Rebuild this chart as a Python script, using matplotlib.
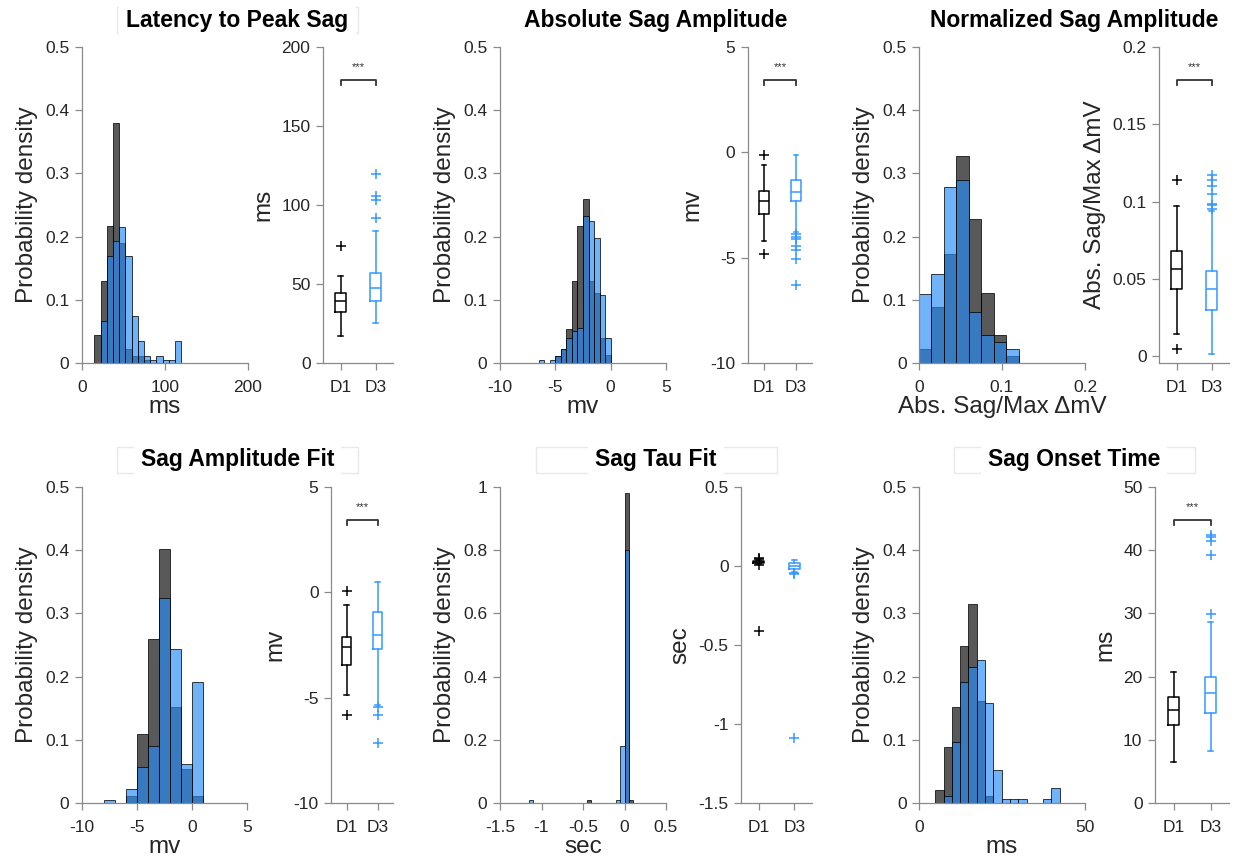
import matplotlib.pyplot as plt
from matplotlib.patches import Rectangle
from matplotlib.ticker import FuncFormatter
from matplotlib.transforms import blended_transform_factory

plt.rcParams['font.family'] = ['Liberation Sans', 'DejaVu Sans']
plt.rcParams['axes.unicode_minus'] = False

# ---------- DATA ----------

titles = ["Latency to Peak Sag", "Absolute Sag Amplitude", "Normalized Sag Amplitude",
          "Sag Amplitude Fit", "Sag Tau Fit", "Sag Onset Time"]
units = ["ms", "mv", "Abs. Sag/Max \u0394mV", "mv", "sec", "ms"]
groups = ["D1", "D3"]
significant = [True, True, True, True, False, True]

# histograms: left bin edges, bin width, probability per bin
lat_bins = [15, 22.5, 30, 37.5, 45, 52.5, 60, 67.5, 75, 82.5, 90, 97.5, 105, 112.5]
lat_width = 7.5
lat_d1 = [0.044, 0.129, 0.217, 0.379, 0.19, 0.022, 0.011, 0.011, 0.005, 0, 0, 0, 0, 0]
lat_d3 = [0, 0.067, 0.169, 0.193, 0.215, 0.169, 0.074, 0.035, 0.011, 0.005, 0.011, 0.005, 0.005, 0.035]

abs_bins = [-6.5, -6, -5.5, -5, -4.5, -4, -3.5, -3, -2.5, -2, -1.5, -1, -0.5]
abs_width = 0.5
abs_d1 = [0, 0, 0, 0.011, 0.022, 0.054, 0.13, 0.217, 0.26, 0.13, 0.11, 0.039, 0.012]
abs_d3 = [0.005, 0, 0.005, 0.011, 0.022, 0.039, 0.05, 0.056, 0.232, 0.225, 0.198, 0.108, 0.039]

norm_bins = [0, 0.015, 0.03, 0.045, 0.06, 0.075, 0.09, 0.105]
norm_width = 0.015
norm_d1 = [0.022, 0.088, 0.173, 0.327, 0.228, 0.11, 0.044, 0.011]
norm_d3 = [0.109, 0.141, 0.278, 0.29, 0.08, 0.044, 0.034, 0.022]

fit_bins = [-8, -7, -6, -5, -4, -3, -2, -1, 0]
fit_width = 1
fit_d1 = [0, 0, 0.011, 0.109, 0.26, 0.402, 0.152, 0.054, 0.011]
fit_d3 = [0.005, 0, 0.022, 0.057, 0.09, 0.324, 0.244, 0.062, 0.192]

tau_bins = [-1.15, -0.45, -0.1, -0.05, 0.0, 0.05]
tau_width = 0.05
tau_d1 = [0, 0.01, 0, 0, 0.98, 0.01]
tau_d3 = [0.008, 0, 0.008, 0.18, 0.80, 0]

onset_bins = [4.9, 7.4, 9.9, 12.4, 14.9, 17.4, 19.9, 22.4, 24.9, 27.4, 29.9, 32.4, 34.9, 37.4, 39.9]
onset_width = 2.5
onset_d1 = [0.021, 0.088, 0.152, 0.249, 0.315, 0.161, 0.011, 0, 0, 0, 0, 0, 0, 0, 0]
onset_d3 = [0, 0.011, 0.096, 0.192, 0.215, 0.227, 0.159, 0.052, 0.006, 0.006, 0.006, 0, 0, 0.006, 0.024]

# box plots: (whisker low, q1, median, q3, whisker high), outliers
lat_box = [(16.9, 32.1, 39.5, 44.3, 55.3), (25.1, 39.1, 47.5, 56.8, 83.4)]
lat_out = [[74.3], [91.9, 102.9, 105.6, 119.7]]
abs_box = [(-4.2, -2.93, -2.3, -1.85, -0.59), (-3.8, -2.33, -1.87, -1.3, -0.13)]
abs_out = [[-0.11, -4.83], [-3.9, -4.0, -4.1, -4.45, -4.65, -5.05, -6.3]]
norm_box = [(0.0145, 0.0434, 0.0565, 0.068, 0.0969), (0.0015, 0.0296, 0.0432, 0.055, 0.094)]
norm_out = [[0.1137, 0.0047], [0.117, 0.114, 0.110, 0.105, 0.0986, 0.0975, 0.0953]]
fit_box = [(-4.86, -3.43, -2.61, -2.12, -0.62), (-5.33, -2.69, -2.01, -0.93, 0.49)]
fit_out = [[0.08, -5.84], [-5.45, -5.84, -7.15]]
tau_box = [(0.012, 0.02, 0.025, 0.03, 0.04), (-0.035, -0.02, 0.0, 0.02, 0.035)]
tau_out = [[0.045, 0.05, 0.005, -0.41], [-0.045, -0.05, -1.09]]
onset_box = [(6.43, 12.4, 14.77, 16.7, 20.68), (8.3, 14.2, 17.4, 20.0, 28.6)]
onset_out = [[], [29.96, 39.3, 41.4, 42.1, 42.46]]

hist_data = [(lat_bins, lat_width, lat_d1, lat_d3),
             (abs_bins, abs_width, abs_d1, abs_d3),
             (norm_bins, norm_width, norm_d1, norm_d3),
             (fit_bins, fit_width, fit_d1, fit_d3),
             (tau_bins, tau_width, tau_d1, tau_d3),
             (onset_bins, onset_width, onset_d1, onset_d3)]
box_data = [(lat_box, lat_out), (abs_box, abs_out), (norm_box, norm_out),
            (fit_box, fit_out), (tau_box, tau_out), (onset_box, onset_out)]

# ---------- LAYOUT / STYLE ----------

W, H = 1237, 867
GRAY_FACE = (0.0, 0.0, 0.0, 0.65)
BLUE_FACE = (38 / 255, 140 / 255, 247 / 255, 0.66)
BOX_COLORS = ["black", "#3399FF"]
AXIS_COLOR = "#8a8a8a"
TEXT_COLOR = "#262626"

hist_xlims = [(0, 200), (-10, 5), (0, 0.2), (-10, 5), (-1.5, 0.5), (0, 50)]
hist_xticks = [[0, 100, 200], [-10, -5, 0, 5], [0, 0.1, 0.2], [-10, -5, 0, 5],
               [-1.5, -1, -0.5, 0, 0.5], [0, 50]]
hist_ylims = [(0, 0.5)] * 4 + [(0, 1)] + [(0, 0.5)]
hist_yticks = [[0, 0.1, 0.2, 0.3, 0.4, 0.5]] * 4 + [[0, 0.2, 0.4, 0.6, 0.8, 1]] + [[0, 0.1, 0.2, 0.3, 0.4, 0.5]]
box_ylims = [(0, 200), (-10, 5), (-0.0045, 0.2), (-10, 5), (-1.5, 0.5), (0, 50)]
box_yticks = [[0, 50, 100, 150, 200], [-10, -5, 0, 5], [0, 0.05, 0.1, 0.15, 0.2],
              [-10, -5, 0, 5], [-1.5, -1, -0.5, 0, 0.5], [0, 10, 20, 30, 40, 50]]

# pixel boxes (left, right, top, bottom)
hist_px = [(82, 247.5, 47, 363), (500, 666, 47, 363), (919, 1085, 47, 363),
           (82, 247.5, 487, 803), (500, 666, 487, 803), (919, 1085, 487, 803)]
box_px = [(323, 393, 47, 363), (748, 812, 47, 363), (1159, 1229, 47, 363),
          (331, 393, 487, 803), (741, 812, 487, 803), (1155, 1229, 487, 803)]
title_y = [20, 20, 20, 460, 460, 460]


def px_rect(l, r, t, b):
    return [l / W, 1 - b / H, (r - l) / W, (b - t) / H]


fmt = FuncFormatter(lambda v, p: "%g" % round(v, 6))


def style_axes(ax):
    for side in ("top", "right"):
        ax.spines[side].set_visible(False)
    for side in ("left", "bottom"):
        ax.spines[side].set_color(AXIS_COLOR)
        ax.spines[side].set_linewidth(0.9)
    ax.tick_params(direction="out", length=5, width=0.9, color=AXIS_COLOR,
                   labelcolor=TEXT_COLOR, labelsize=12.5)
    ax.tick_params(axis="x", pad=7)
    ax.tick_params(axis="y", pad=4)


def draw_hist(ax, bins, width, d1, d3):
    for heights, face in ((d1, GRAY_FACE), (d3, BLUE_FACE)):
        lefts = [b for b, h in zip(bins, heights) if h > 0]
        vals = [h for h in heights if h > 0]
        ax.bar(lefts, vals, width=width, align="edge", color=face,
               edgecolor=(0, 0, 0, 0.75), linewidth=0.7)


def draw_box(ax, stats, outliers):
    for i, (s, out) in enumerate(zip(stats, outliers)):
        c = BOX_COLORS[i]
        st = dict(whislo=s[0], q1=s[1], med=s[2], q3=s[3], whishi=s[4], fliers=out)
        ax.bxp([st], positions=[i + 1], widths=0.3, capwidths=0.15, showfliers=True,
               boxprops=dict(color=c, linewidth=1.1),
               whiskerprops=dict(color=c, linewidth=1.1),
               capprops=dict(color=c, linewidth=1.1),
               medianprops=dict(color=c, linewidth=1.1),
               flierprops=dict(marker="+", markersize=7, markeredgecolor=c,
                               markeredgewidth=1.1, linestyle="none"))


def draw_sig(ax):
    tr = blended_transform_factory(ax.transData, ax.transAxes)
    ax.plot([1, 1, 2, 2], [0.88, 0.897, 0.897, 0.88], color="#333333", lw=1.3,
            transform=tr, clip_on=False)
    ax.text(1.5, 0.935, "***", transform=tr, ha="center", va="center",
            fontsize=8, color="#333333")


# ---------- PLOTTING ----------

fig = plt.figure(figsize=(W / 100, H / 100), dpi=100)

for k in range(6):
    hx = fig.add_axes(px_rect(*hist_px[k]))
    draw_hist(hx, *hist_data[k])
    hx.set_xlim(*hist_xlims[k])
    hx.set_ylim(*hist_ylims[k])
    hx.set_xticks(hist_xticks[k])
    hx.set_yticks(hist_yticks[k])
    hx.xaxis.set_major_formatter(fmt)
    hx.yaxis.set_major_formatter(fmt)
    style_axes(hx)
    hx.set_xlabel(units[k], fontsize=17.5, color=TEXT_COLOR, labelpad=1)
    hx.set_ylabel("Probability density", fontsize=17.5, color=TEXT_COLOR, labelpad=5)

    bx = fig.add_axes(px_rect(*box_px[k]))
    draw_box(bx, *box_data[k])
    bx.set_xlim(0.5, 2.5)
    bx.set_ylim(*box_ylims[k])
    bx.set_xticks([1, 2])
    bx.set_xticklabels(groups)
    bx.set_yticks(box_yticks[k])
    bx.yaxis.set_major_formatter(fmt)
    style_axes(bx)
    bx.set_ylabel(units[k], fontsize=17.5, color=TEXT_COLOR, labelpad=5)
    if significant[k]:
        draw_sig(bx)

    # title with faint frame, centred over histogram + box pair
    cx = (hist_px[k][0] + box_px[k][1]) / 2
    ty = title_y[k]
    fig.patches.append(Rectangle(((cx - 120.5) / W, 1 - (ty + 13) / H), 241 / W, 26 / H,
                                 transform=fig.transFigure, fill=False,
                                 edgecolor="#e8e8e8", linewidth=1))
    fig.text(cx / W, 1 - ty / H, titles[k], ha="center", va="center",
             fontsize=16.5, fontweight="bold", color="black",
             bbox=dict(boxstyle="square,pad=0.3", facecolor="white", edgecolor="none"))

fig.savefig("out.png", dpi=100)
